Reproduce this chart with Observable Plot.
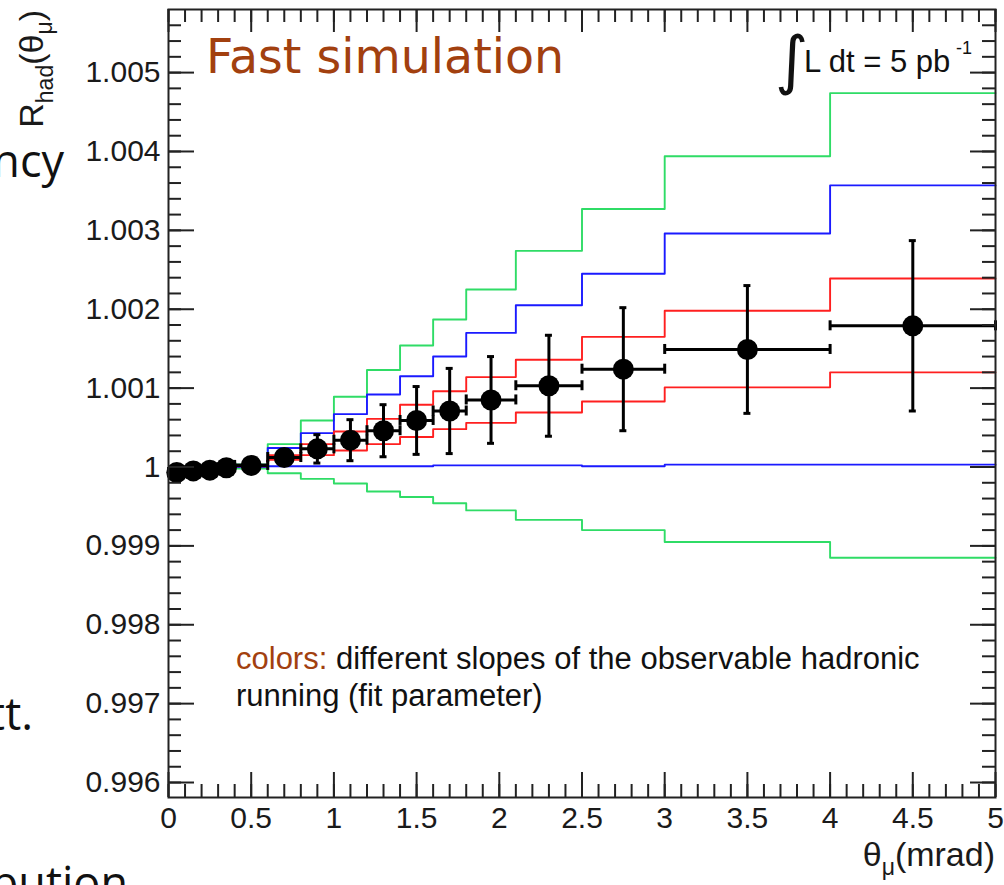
<!DOCTYPE html>
<html><head><meta charset="utf-8">
<script src="https://cdn.jsdelivr.net/npm/d3@7"></script>
<script src="https://cdn.jsdelivr.net/npm/@observablehq/plot@0.6"></script>
<style>
html,body{margin:0;padding:0;background:#fff;overflow:hidden;}
#chart{position:relative;width:1004px;height:885px;}
</style></head><body><div id="chart"></div>
<script>
// ---- data ----
const binEdges = [0, 0.1, 0.2, 0.3, 0.4, 0.6, 0.8, 1.0, 1.2, 1.4, 1.6, 1.8, 2.1, 2.5, 3.0, 4.0, 5.0];
const pointX   = [0.05, 0.15, 0.25, 0.35, 0.5, 0.7, 0.9, 1.1, 1.3, 1.5, 1.7, 1.95, 2.3, 2.75, 3.5, 4.5];
const pointY   = [0.99993, 0.99995, 0.99996, 0.99999, 1.00002, 1.00012, 1.00023, 1.00034, 1.00046, 1.00059, 1.00071, 1.00085, 1.00103, 1.00124, 1.00149, 1.00179];
const pointErr = [0.00002, 0.00002, 0.00003, 0.00003, 0.00004, 0.00007, 0.00018, 0.00026, 0.00033, 0.00043, 0.00054, 0.00055, 0.00064, 0.00078, 0.00081, 0.00108];

const greenUpper = [0.99994, 0.99996, 0.99998, 1.00000, 1.00004, 1.00029, 1.00059, 1.00089, 1.00123, 1.00154, 1.00187, 1.00225, 1.00274, 1.00327, 1.00394, 1.00474];
const blueUpper  = [0.99994, 0.99996, 0.99998, 1.00000, 1.00003, 1.00024, 1.00043, 1.00067, 1.00092, 1.00115, 1.00140, 1.00170, 1.00205, 1.00245, 1.00296, 1.00357];
const redUpper   = [0.99994, 0.99996, 0.99998, 1.00000, 1.00003, 1.00015, 1.00029, 1.00045, 1.00061, 1.00079, 1.00096, 1.00114, 1.00136, 1.00165, 1.00198, 1.00239];
const redLower   = [0.99993, 0.99995, 0.99997, 0.99999, 1.00001, 1.00009, 1.00015, 1.00021, 1.00029, 1.00038, 1.00048, 1.00056, 1.00069, 1.00083, 1.00101, 1.00120];
const blueLower  = [0.99993, 0.99995, 0.99997, 0.99999, 1.00000, 1.00001, 1.00001, 1.00001, 1.00001, 1.00001, 1.00002, 1.00002, 1.00002, 1.00001, 1.00003, 1.00003];
const greenLower = [0.99993, 0.99995, 0.99996, 0.99998, 0.99998, 0.99992, 0.99985, 0.99979, 0.99969, 0.99962, 0.99954, 0.99945, 0.99933, 0.99920, 0.99905, 0.99885];

const xTickLabels = [0, 0.5, 1, 1.5, 2, 2.5, 3, 3.5, 4, 4.5, 5];
const yTickLabels = [0.996, 0.997, 0.998, 0.999, 1, 1.001, 1.002, 1.003, 1.004, 1.005];
const xMinorTicks = d3.range(0, 51).map(i => +(i * 0.1).toFixed(1));
const yMinorTicks = d3.range(0, 51).map(i => +(0.9958 + i * 0.0002).toFixed(4)).filter(v => v > 0.99582 && v < 1.00578);

// ---- layout ----
const W = 1004, H = 885, mL = 168, mR = 9, mT = 9, mB = 88;
const fw = W - mL - mR, fh = H - mT - mB;
const axisColor = "#222";

const stepRows = vals => binEdges.map((e, i) => ({x: e, y: vals[Math.min(i, vals.length - 1)]}));
const pts = pointX.map((x, i) => ({x, y: pointY[i], e: pointErr[i], lo: binEdges[i], hi: binEdges[i + 1]}));

const GREEN = "#2fdc66", BLUE = "#1a1aff", RED = "#ff1f1f";
const stepLine = (vals, color) => Plot.line(stepRows(vals), {x: "x", y: "y", curve: "step-after", stroke: color, strokeWidth: 1.9});

const plot = Plot.plot({
  width: W, height: H,
  marginLeft: mL, marginRight: mR, marginTop: mT, marginBottom: mB,
  style: {fontFamily: "'Liberation Sans', Arial, sans-serif", background: "#fff", overflow: "visible"},
  x: {domain: [0, 5]},
  y: {domain: [0.99581, 1.0058]},
  marks: [
    // model step curves
    stepLine(greenUpper, GREEN), stepLine(greenLower, GREEN),
    stepLine(blueUpper, BLUE), stepLine(blueLower, BLUE),
    stepLine(redUpper, RED), stepLine(redLower, RED),
    // error bars
    Plot.ruleX(pts, {x: "x", y1: d => d.y - d.e, y2: d => d.y + d.e, stroke: "#000", strokeWidth: 3}),
    Plot.ruleY(pts, {y: "y", x1: "lo", x2: "hi", stroke: "#000", strokeWidth: 3}),
    Plot.ruleY(pts, {y: d => d.y + d.e, x1: "x", x2: "x", insetLeft: -3.5, insetRight: -3.5, stroke: "#000", strokeWidth: 3}),
    Plot.ruleY(pts, {y: d => d.y - d.e, x1: "x", x2: "x", insetLeft: -3.5, insetRight: -3.5, stroke: "#000", strokeWidth: 3}),
    Plot.ruleX(pts, {x: "lo", y1: "y", y2: "y", insetTop: -5, insetBottom: -5, stroke: "#000", strokeWidth: 3}),
    Plot.ruleX(pts, {x: "hi", y1: "y", y2: "y", insetTop: -5, insetBottom: -5, stroke: "#000", strokeWidth: 3}),
    Plot.dot(pts, {x: "x", y: "y", r: 10.5, fill: "#000"}),
    // ROOT-style inward ticks
    Plot.tickY(yMinorTicks, {y: d => d, insetRight: fw - 13, stroke: axisColor, strokeWidth: 2}),
    Plot.tickY(yTickLabels, {y: d => d, insetRight: fw - 26, stroke: axisColor, strokeWidth: 2}),
    Plot.tickY(yMinorTicks, {y: d => d, insetLeft: fw - 13, stroke: axisColor, strokeWidth: 2}),
    Plot.tickY(yTickLabels, {y: d => d, insetLeft: fw - 25, stroke: axisColor, strokeWidth: 2}),
    Plot.tickX(xMinorTicks, {x: d => d, insetTop: fh - 13, stroke: axisColor, strokeWidth: 2}),
    Plot.tickX(xTickLabels, {x: d => d, insetTop: fh - 25, stroke: axisColor, strokeWidth: 2}),
    Plot.tickX(xMinorTicks, {x: d => d, insetBottom: fh - 13, stroke: axisColor, strokeWidth: 2}),
    Plot.tickX(xTickLabels, {x: d => d, insetBottom: fh - 23, stroke: axisColor, strokeWidth: 2}),
    Plot.frame({stroke: axisColor, strokeWidth: 2}),
    // axes labels
    Plot.axisY(yTickLabels, {anchor: "left", tickSize: 0, tickPadding: 8, label: null,
      tickFormat: d => d === 1 ? "1" : d.toFixed(3), fontSize: 30, fill: "#1a1a1a"}),
    Plot.axisX(xTickLabels, {anchor: "bottom", tickSize: 0, tickPadding: 9, label: null,
      tickFormat: d => String(d), fontSize: 30, fill: "#1a1a1a"})
  ]
});

document.getElementById("chart").appendChild(plot);

// ---- annotations ----
const svg = d3.select(plot);
const BROWN = "#a2400f";
const sans = "'Liberation Sans', Arial, sans-serif";
const slide = "'Open Sans', 'Noto Sans', sans-serif";
const addText = (x, y, size, family, anchor) => svg.append("text").attr("x", x).attr("y", y)
  .attr("font-size", size).attr("font-family", family).attr("text-anchor", anchor).attr("fill", "#111");

// y title
const yt = svg.append("text").attr("transform", "translate(43,10) rotate(-90)")
  .attr("text-anchor", "end").attr("font-family", sans).attr("font-size", 34).attr("fill", "#1a1a1a");
yt.append("tspan").text("R");
yt.append("tspan").attr("font-size", 23).attr("dy", 10).text("had");
yt.append("tspan").attr("dy", -10).text("(θ");
yt.append("tspan").attr("font-size", 23).attr("dy", 9).text("μ");
yt.append("tspan").attr("dy", -9).text(")");

// x title
const xt = addText(995, 866, 34, sans, "end").attr("fill", "#1a1a1a");
xt.append("tspan").text("θ");
xt.append("tspan").attr("font-size", 23).attr("dy", 9).text("μ");
xt.append("tspan").attr("dy", -9).text("(mrad)");

// Fast simulation
addText(206, 73, 47.5, "'DejaVu Sans', Verdana, sans-serif", "start").attr("fill", BROWN).text("Fast simulation");

// integrated luminosity
addText(775, 82, 64, "'DejaVu Sans', sans-serif", "start").text("∫");
addText(804, 72, 31, sans, "start").text("L dt = 5 pb");
addText(956, 54, 18, sans, "start").text("-1");

// colors note
const n1 = addText(236, 669, 31, sans, "start");
n1.append("tspan").attr("fill", BROWN).text("colors:");
n1.append("tspan").text(" different slopes of the observable hadronic");
addText(236, 706, 31, sans, "start").text("running (fit parameter)");

// slide text fragments behind the chart
addText(64, 177, 45, slide, "end").text("ncy");
addText(33, 730, 45, slide, "end").text("tt.");
addText(128, 899, 45, slide, "end").text("ribution");
</script>
</body></html>
